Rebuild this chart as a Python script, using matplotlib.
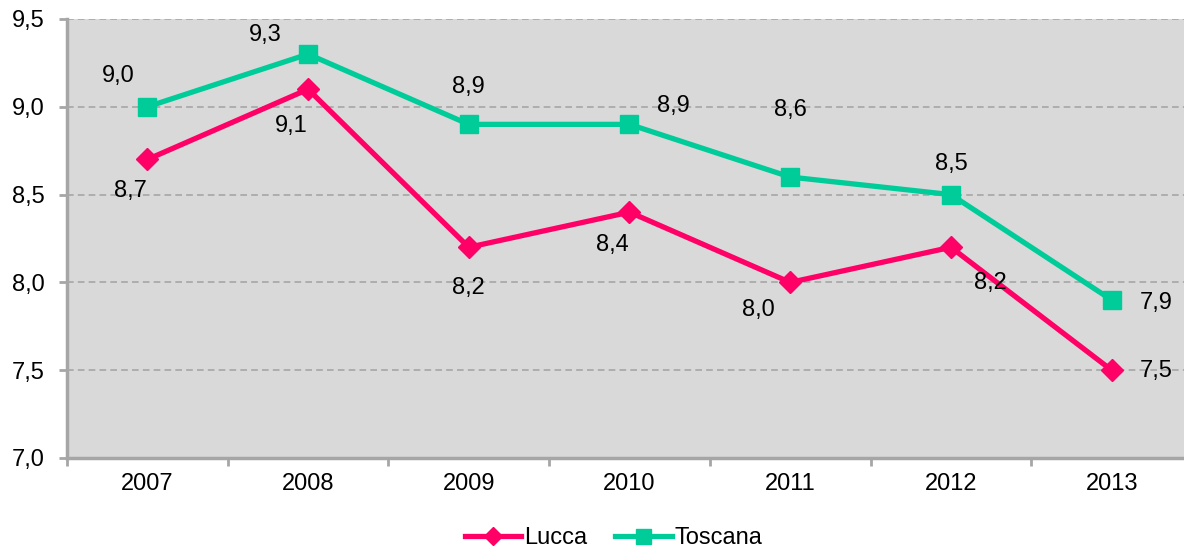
import matplotlib
matplotlib.use("Agg")
import matplotlib.pyplot as plt
from matplotlib.ticker import FuncFormatter

years = ["2007", "2008", "2009", "2010", "2011", "2012", "2013"]
lucca = [8.7, 9.1, 8.2, 8.4, 8.0, 8.2, 7.5]
toscana = [9.0, 9.3, 8.9, 8.9, 8.6, 8.5, 7.9]

# label offsets in pixels (dx, dy)
lucca_off = [(-17, -32), (-17, -37), (0, -41), (-17, -33), (-32, -28), (39, -36), (45, -1)]
toscana_off = [(-29, 31), (-43, 19), (0, 37), (44, 18), (0, 67), (0, 31), (45, -3)]

LUCCA_C = "#ff0066"
TOSC_C = "#00cc99"
GRID_C = "#a6a6a6"
FS = 17

plt.rcParams["font.family"] = ["Liberation Sans", "DejaVu Sans"]

fig = plt.figure(figsize=(11.84, 5.49), dpi=100)
ax = fig.add_axes([67 / 1184, 1 - 458 / 549, 1125 / 1184, 439 / 549])
ax.set_facecolor("#d9d9d9")

x = [i + 0.5 for i in range(len(years))]
ax.plot(x, lucca, color=LUCCA_C, lw=3.8, marker="D", ms=11.5, label="Lucca", zorder=3)
ax.plot(x, toscana, color=TOSC_C, lw=3.8, marker="s", ms=13.5, label="Toscana", zorder=3)

fmt = lambda v: f"{v:.1f}".replace(".", ",")
for xi, v, (dx, dy) in zip(x, lucca, lucca_off):
    ax.annotate(fmt(v), (xi, v), xytext=(dx, dy), textcoords="offset pixels",
                ha="center", va="center", fontsize=FS)
for xi, v, (dx, dy) in zip(x, toscana, toscana_off):
    ax.annotate(fmt(v), (xi, v), xytext=(dx, dy), textcoords="offset pixels",
                ha="center", va="center", fontsize=FS)

ax.set_xlim(0, len(years))
ax.set_ylim(7.0, 9.5)
ax.set_yticks([7.0, 7.5, 8.0, 8.5, 9.0, 9.5])
ax.yaxis.set_major_formatter(FuncFormatter(lambda v, p: fmt(v)))
ax.set_xticks(range(len(years) + 1))
ax.set_xticklabels([])
ax.set_xticks(x, minor=True)
ax.set_xticklabels(years, minor=True)
ax.tick_params(axis="x", which="minor", length=0, labelsize=FS, pad=11)
ax.tick_params(axis="x", which="major", length=6, width=2, color=GRID_C)
ax.tick_params(axis="y", length=6, width=2, color=GRID_C, labelsize=FS, pad=10)

ax.grid(axis="y", color=GRID_C, ls=(0, (4, 2.5)), lw=1.2)
ax.set_axisbelow(True)
for s in ["top", "right"]:
    ax.spines[s].set_visible(False)
for s in ["left", "bottom"]:
    ax.spines[s].set_color(GRID_C)
    ax.spines[s].set_linewidth(2.5)

fig.legend(loc="center", bbox_to_anchor=(0.518, 1 - 538 / 549), ncol=2, frameon=False,
           fontsize=FS, handlelength=2.4, columnspacing=1.2, handletextpad=0.1,
           markerscale=0.8)

fig.savefig("out.png", dpi=100)
